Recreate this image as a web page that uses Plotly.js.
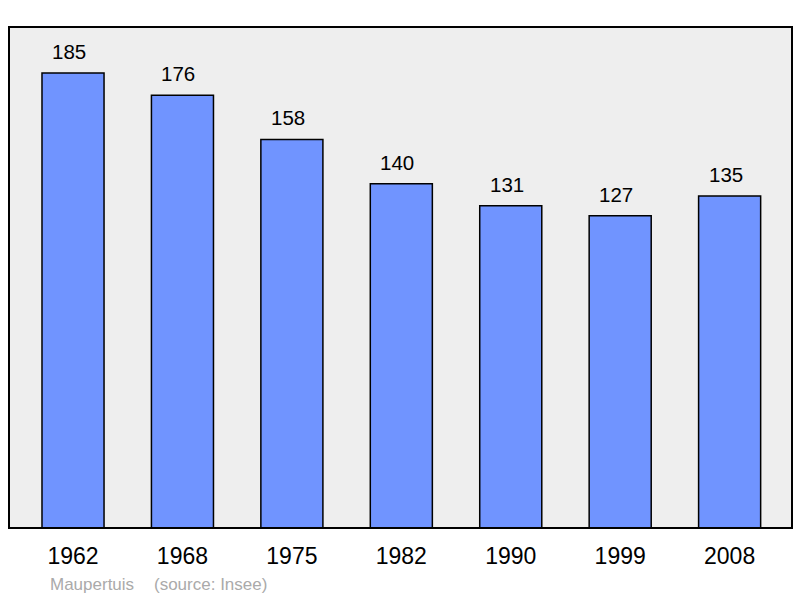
<!DOCTYPE html>
<html><head><meta charset="utf-8">
<script src="https://cdn.plot.ly/plotly-3.0.1.min.js"></script>
<style>body{margin:0;background:#fff}#c{width:800px;height:598px}</style>
</head><body><div id="c"></div>
<script>
const years = ["1962","1968","1975","1982","1990","1999","2008"];
const population = [185,176,158,140,131,127,135];
const xs = years.map((_, i) => i);

const trace = {
  type: 'bar', x: xs, y: population, width: 0.567,
  marker: {color: '#7094FF', line: {color: '#000', width: 1.5}},
  hoverinfo: 'none'
};
const ann = population.map((v, i) => ({
  x: i, y: v, xref: 'x', yref: 'y', text: String(v), showarrow: false,
  yanchor: 'bottom', yshift: 8, xshift: -4, font: {size: 20.5, color: '#000'}
}));
ann.push({xref:'paper', yref:'paper', x: 39/783, y: -0.112, xanchor:'left', yanchor:'middle',
  text:'Maupertuis', showarrow:false, font:{size:17, color:'#AAAAAA'}});
ann.push({xref:'paper', yref:'paper', x: 143/783, y: -0.112, xanchor:'left', yanchor:'middle',
  text:'(source: Insee)', showarrow:false, font:{size:17, color:'#AAAAAA'}});

const layout = {
  width: 800, height: 598,
  margin: {l: 9, r: 8, t: 27, b: 70},
  paper_bgcolor: '#fff', plot_bgcolor: '#EEEEEE',
  font: {family: 'Liberation Sans, Arial, sans-serif'},
  showlegend: false,
  xaxis: {range: [-0.585, 6.57], tickvals: xs, ticktext: years, showgrid: false,
    zeroline: false, showline: false, ticks: '', tickfont: {size: 23, color: '#000'}, ticklabelstandoff: 12, fixedrange: true},
  yaxis: {range: [0, 203.7], showgrid: false, zeroline: false, showticklabels: false, ticks: '', fixedrange: true},
  annotations: ann,
  shapes: [{type: 'rect', xref: 'paper', yref: 'paper', x0: 0, x1: 1, y0: 0, y1: 1,
    line: {color: '#000', width: 2}, layer: 'above'}]
};
Plotly.newPlot('c', [trace], layout, {staticPlot: true});
</script></body></html>
